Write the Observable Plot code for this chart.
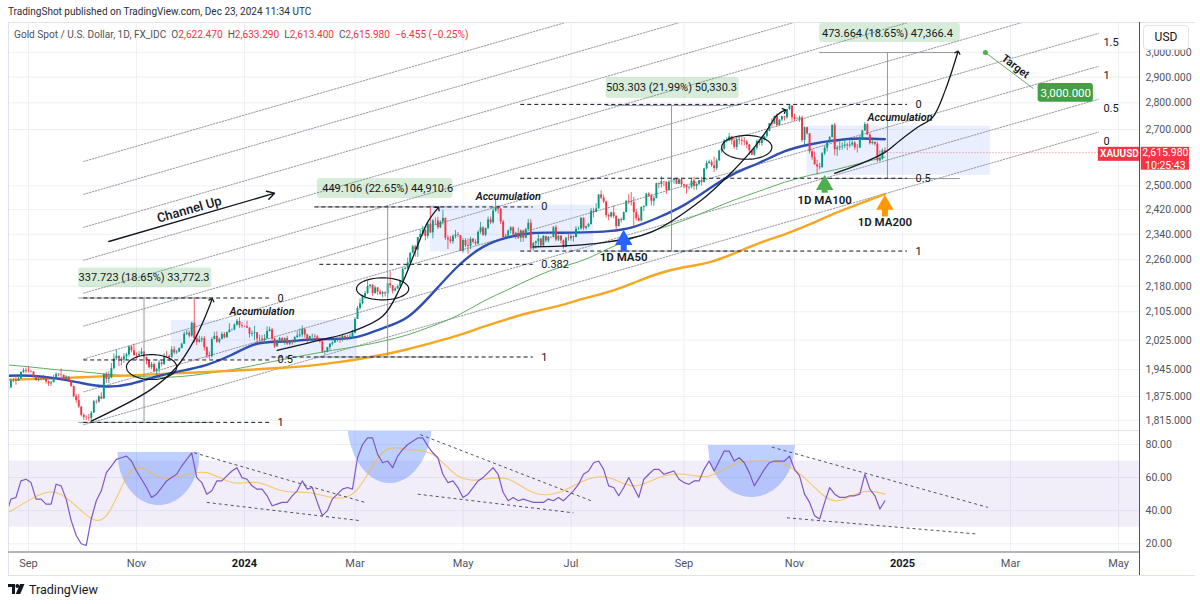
<!DOCTYPE html>
<html><head><meta charset="utf-8">
<script src="https://cdn.jsdelivr.net/npm/d3@7"></script>
<script src="https://cdn.jsdelivr.net/npm/@observablehq/plot@0.6"></script>
<style>
html,body{margin:0;padding:0;background:#fff;}
#wrap{position:relative;width:1200px;height:604px;overflow:hidden;font-family:Roboto,"Open Sans",sans-serif;color:#131722;}
.abs{position:absolute;}
#hdr{left:8px;top:6px;font-size:10px;color:#2a2e39;white-space:nowrap;}
#legend{left:14px;top:29px;font-size:10.1px;color:#50535e;white-space:nowrap;}
#legend .r{color:#f23645;}
.ln{position:absolute;background:#e0e3eb;}
#usd{left:1143px;top:25px;width:44px;height:23px;border:1px solid #e0e3eb;border-radius:4px;background:#fff;font-size:12px;line-height:23px;text-align:center;color:#131722;}
#logo{left:8px;top:582px;font-size:12.5px;color:#131722;display:flex;align-items:center;gap:4px;}
</style></head>
<body><div id="wrap">
<div id="main" class="abs" style="left:0;top:0"></div>
<div id="rsi" class="abs" style="left:0;top:430px"></div>
<div class="ln" style="left:8px;top:22px;width:1187px;height:1px"></div>
<div class="ln" style="left:8px;top:22px;width:1px;height:553px"></div>
<div class="ln" style="left:8px;top:430px;width:1132px;height:1px"></div>
<div class="ln" style="left:8px;top:551px;width:1132px;height:2px;background:#b2b5be"></div>
<div class="ln" style="left:8px;top:575px;width:1187px;height:1px"></div>
<div class="ln" style="left:1139px;top:22px;width:1px;height:553px;background:#50535e"></div>
<div id="hdr" class="abs">TradingShot published on TradingView.com, Dec 23, 2024 11:34 UTC</div>
<div id="legend" class="abs">Gold Spot / U.S. Dollar, 1D, FX_IDC&nbsp; O<span class="r">2,622.470</span>&nbsp; H<span class="r">2,633.290</span>&nbsp; L<span class="r">2,613.400</span>&nbsp; C<span class="r">2,615.980</span>&nbsp; <span class="r">−6.455 (−0.25%)</span></div>
<div id="usd" class="abs">USD</div>
<div id="logo" class="abs"><svg width="17" height="11" viewBox="0 0 17 11"><path d="M0 0h7v10H4V3H0z" fill="#131722"/><circle cx="9.3" cy="2" r="1.9" fill="#131722"/><path d="M12 0h4.5l-4.3 10H7.8z" fill="#131722"/></svg><span>TradingView</span></div>
</div>
<script>
// ---------- DATA: XAUUSD daily sessions from Mon 2023-08-21 to Mon 2024-12-23 (5 sessions per row = one week) ----------
const firstOpen = 1889.6;
const closes = [
1894.6,1897.6,1915.4,1917.1,1914.8, 1920.3,1937.5,1942.1,1940.2,1939.8, 1938.9,1926.5,1916.3,1919.2,1919.0,
1922.5,1913.0,1907.5,1910.6,1923.6, 1932.5,1931.3,1930.3,1919.9,1925.5, 1915.4,1900.9,1874.8,1865.0,1848.6,
1827.2,1822.3,1821.3,1820.0,1833.0, 1861.6,1860.8,1874.0,1868.6,1932.8, 1919.6,1923.0,1947.6,1973.9,1981.2,
1973.2,1970.8,1979.3,1984.6,2006.4, 1995.9,1983.3,1982.6,1985.6,1992.4, 1977.3,1969.2,1950.4,1958.3,1940.3,
1946.0,1963.1,1958.8,1981.0,1980.7, 1977.2,1998.3,1990.1,1992.5,2002.1, 2014.0,2041.4,2044.5,2036.3,2072.2,
2029.5,2019.1,2025.5,2028.6,2004.5, 1981.9,1980.2,2026.9,2035.4,2019.6, 2027.0,2040.6,2031.5,2045.8,2053.1,
2053.5,2067.4,2077.1,2065.0,2062.9, 2062.5,2058.9,2041.6,2043.2,2045.3, 2027.9,2028.0,2024.4,2028.6,2049.1,
2053.5,2028.1,2006.6,2023.3,2029.2, 2021.0,2029.4,2013.8,2020.6,2018.0, 2031.9,2036.5,2039.4,2054.4,2039.4,
2024.7,2035.0,2035.3,2033.9,2024.3, 2020.0,1992.1,1992.4,2004.6,2013.7, 2017.3,2024.8,2025.6,2024.4,2035.5,
2031.1,2030.3,2034.0,2044.5,2082.9, 2114.5,2128.2,2148.3,2158.5,2178.9, 2182.4,2158.1,2174.9,2162.0,2155.9,
2160.3,2157.2,2186.5,2181.0,2165.2, 2171.7,2178.8,2194.5,2229.9,2233.0, 2250.5,2280.5,2300.1,2290.4,2329.8,
2339.1,2352.3,2333.3,2372.3,2344.4, 2383.2,2383.1,2361.0,2379.4,2391.6, 2327.4,2322.2,2316.5,2332.6,2337.4,
2335.8,2286.4,2320.3,2303.5,2301.5, 2323.8,2314.6,2309.0,2346.3,2360.5, 2336.5,2358.4,2386.2,2377.0,2415.2,
2425.4,2420.8,2379.3,2329.2,2334.0, 2350.8,2360.7,2337.9,2343.1,2327.3, 2350.5,2327.6,2355.1,2375.6,2293.8,
2310.6,2316.0,2324.6,2303.0,2332.7, 2318.7,2329.6,2329.3,2360.7,2321.6, 2334.3,2319.3,2297.8,2327.6,2326.0,
2332.3,2329.9,2356.0,2356.6,2391.9, 2359.0,2364.6,2371.2,2414.9,2411.3, 2422.5,2469.2,2458.3,2445.7,2400.8,
2396.0,2409.4,2397.1,2364.5,2387.2, 2384.1,2410.1,2447.6,2446.1,2443.3, 2410.1,2390.3,2382.5,2427.3,2431.3,
2472.0,2465.3,2447.4,2456.7,2507.6, 2504.5,2513.7,2512.6,2484.0,2512.6, 2517.9,2524.7,2505.4,2521.1,2503.4,
2500.1,2493.3,2495.5,2516.3,2497.4, 2505.4,2516.9,2511.9,2558.6,2577.6, 2582.0,2569.4,2559.3,2586.8,2621.8,
2628.4,2657.2,2657.8,2672.7,2658.1, 2634.6,2662.7,2659.6,2656.7,2653.6, 2643.6,2622.7,2606.9,2630.5,2656.6,
2648.8,2662.3,2674.4,2692.7,2721.2, 2719.5,2748.6,2714.6,2735.2,2747.2, 2743.2,2774.6,2788.0,2743.9,2736.0,
2736.0,2743.0,2659.4,2706.5,2684.1, 2618.9,2598.4,2572.8,2565.3,2562.3, 2611.9,2631.5,2651.0,2670.0,2715.6,
2626.5,2632.9,2636.4,2639.0,2643.2, 2639.6,2643.0,2650.2,2632.8,2632.3, 2660.8,2694.8,2718.1,2680.1,2648.3,
2652.6,2646.0,2586.5,2594.0,2622.4, 2615.98];
const highs = [
1897,1903,1920,1922,1925, 1925,1939,1948,1949,1953, 1943,1940,1929,1922,1925,
1930,1925,1915,1914,1930, 1937,1935,1947,1930,1929, 1925,1917,1902,1880,1880,
1848,1831,1826,1830,1837, 1865,1866,1877,1885,1932, 1938,1939,1962,1987,1997,
1981,1978,1988,1989,2009, 2009,2014,1990,1994,2003, 1994,1979,1970,1964,1963,
1949,1970,1969,1988,1994, 1985,2007,2007,1997,2004, 2017,2048,2052,2051,2075,
2146,2040,2036,2034,2035, 2006,1993,2032,2047,2048, 2030,2047,2046,2048,2071,
2056,2070,2083,2088,2074, 2064,2078,2058,2051,2064, 2046,2039,2038,2040,2062,
2061,2058,2031,2025,2033, 2032,2032,2036,2023,2026, 2035,2049,2056,2065,2058,
2041,2036,2042,2041,2038, 2031,2024,1996,2005,2016, 2021,2031,2032,2035,2041,
2037,2038,2042,2052,2088, 2120,2142,2152,2164,2195, 2185,2185,2180,2175,2168,
2164,2163,2189,2223,2181, 2177,2184,2196,2236,2236, 2265,2282,2305,2305,2330,
2354,2365,2355,2378,2431, 2387,2392,2395,2383,2418, 2391,2335,2333,2338,2352,
2346,2335,2326,2326,2325, 2331,2327,2323,2351,2378, 2364,2360,2396,2396,2422,
2450,2432,2424,2385,2339, 2353,2364,2364,2347,2360, 2354,2353,2359,2388,2387,
2314,2318,2342,2327,2336, 2334,2333,2332,2365,2368, 2335,2335,2322,2329,2339,
2339,2335,2365,2363,2393, 2392,2366,2375,2424,2425, 2440,2469,2483,2469,2448,
2406,2412,2432,2400,2390, 2393,2412,2451,2470,2477, 2461,2421,2402,2430,2432,
2474,2477,2471,2465,2509, 2510,2531,2515,2512,2517, 2527,2525,2526,2524,2526,
2504,2503,2498,2523,2529, 2507,2518,2529,2560,2586, 2589,2589,2600,2593,2625,
2634,2664,2670,2685,2675, 2666,2673,2672,2670,2670, 2660,2645,2624,2632,2661,
2664,2673,2676,2696,2721, 2740,2749,2758,2736,2749, 2749,2774,2790,2790,2757,
2745,2750,2750,2710,2709, 2685,2627,2618,2588,2578, 2616,2639,2652,2674,2716,
2722,2640,2655,2651,2665, 2650,2658,2658,2656,2645, 2676,2695,2726,2722,2684,
2664,2655,2654,2622,2629, 2633.29];
const lows = [
1884,1887,1896,1911,1904, 1914,1919,1935,1934,1936, 1936,1923,1915,1913,1915,
1917,1907,1901,1901,1910, 1922,1926,1915,1914,1917, 1913,1899,1872,1858,1845,
1824,1815,1815,1813,1810, 1832,1855,1858,1867,1868, 1909,1908,1922,1945,1969,
1953,1955,1962,1970,1979, 1990,1980,1970,1978,1984, 1966,1958,1947,1945,1937,
1931,1936,1953,1956,1977, 1966,1976,1985,1986,1991, 2001,2013,2038,2031,2033,
2017,2010,2017,2018,1995, 1975,1973,1976,2026,2016, 2015,2026,2028,2030,2045,
2050,2051,2064,2058,2058, 2060,2057,2031,2034,2024, 2017,2021,2016,2013,2028,
2048,2023,2002,2009,2016, 2017,2011,2010,2009,2011, 2016,2030,2031,2032,2031,
2015,2022,2030,2028,2021, 2017,1989,1984,1990,1996, 2009,2016,2019,2016,2020,
2024,2025,2025,2030,2043, 2083,2110,2125,2141,2155, 2171,2150,2156,2153,2153,
2146,2148,2146,2172,2157, 2163,2170,2174,2193,2229, 2229,2245,2279,2268,2267,
2322,2332,2319,2325,2342, 2325,2368,2355,2358,2370, 2320,2292,2310,2308,2325,
2329,2285,2280,2298,2277, 2291,2310,2303,2305,2340, 2333,2332,2355,2371,2373,
2411,2405,2371,2326,2325, 2331,2341,2334,2323,2323, 2314,2315,2325,2351,2287,
2287,2293,2299,2299,2302, 2313,2312,2326,2329,2316, 2317,2310,2293,2298,2318,
2318,2315,2329,2352,2353, 2352,2353,2361,2370,2393, 2410,2421,2453,2440,2393,
2384,2392,2390,2353,2365, 2376,2384,2410,2437,2432, 2364,2383,2380,2380,2414,
2429,2461,2432,2431,2456, 2490,2492,2497,2471,2484, 2502,2506,2504,2504,2497,
2490,2472,2485,2490,2485, 2485,2500,2499,2509,2555, 2575,2563,2546,2553,2585,
2614,2625,2650,2655,2643, 2628,2624,2644,2641,2640, 2630,2606,2605,2603,2624,
2640,2638,2658,2667,2691, 2708,2718,2708,2714,2729, 2731,2739,2771,2730,2730,
2734,2726,2652,2643,2679, 2611,2589,2572,2537,2555, 2562,2605,2619,2649,2670,
2605,2602,2622,2624,2630, 2623,2632,2638,2624,2614, 2631,2659,2694,2677,2643,
2643,2639,2582,2583,2589, 2613.4];
// Moving averages, one value every 10 sessions (session 0,10,...,350)
const ma50  = [1929,1929,1922,1910,1901,1908,1927,1942,1958,1985,2015,2021,2026,2028,2034,2058,2090,2160,2240,2300,2330,2344,2345,2346,2350,2364,2395,2435,2490,2542,2580,2620,2645,2660,2667,2664];
const ma100 = [1958,1952,1945,1940,1933,1928,1925,1927,1935,1945,1958,1972,1985,1997,2008,2022,2040,2065,2095,2135,2170,2205,2235,2259,2295,2328,2357,2385,2418,2452,2482,2512,2536,2555,2578,2600];
const ma200 = [1918,1920,1922,1925,1928,1930,1933,1936,1939,1942,1946,1950,1955,1963,1973,1985,2000,2018,2038,2062,2085,2105,2122,2143,2163,2190,2218,2237,2252,2280,2312,2340,2372,2408,2440,2472];
// RSI(14), one value every 2 sessions (session 0,2,...,350)
const rsi = [37,47,48,58,59,57,47,47,44,44,56,55,47,34,25,20,19,35,46,52,63,67,71,72,73,70,64,59,54,48,50,54,58,60,62,67,71,75,60,57,50,52,58,58,61,64,66,60,59,55,53,53,49,43,44,45,45,49,52,58,53,54,45,37,40,47,50,53,54,53,72,80,84,84,74,69,70,66,73,77,80,82,84,84,79,75,72,62,57,58,54,48,50,54,58,60,63,66,62,51,46,48,46,47,46,45,45,45,47,46,48,46,49,52,56,62,64,69,70,65,55,54,49,54,60,54,48,59,62,65,65,62,63,64,59,57,56,58,58,65,70,64,70,76,76,70,72,69,63,55,60,65,69,70,70,70,73,65,61,50,45,37,35,45,54,50,48,48,49,49,50,62,53,49,41,46];
// RSI-based moving average, one value every 10 sessions
const rsiMA = [38,47,51,40,37,64,61,61,63,57,57,52,51,48,53,75,77,74,61,59,59,51,51,58,60,55,60,62,61,68,70,68,57,46,51,50];
// Axis ticks
const priceTicks = [1815,1875,1945,2025,2105,2180,2260,2340,2420,2500,2700,2800,2900,3000];
const rsiTicks = [20,40,60,80];
const monthTicks = ["2023-09-01","2023-11-01","2024-03-01","2024-05-01","2024-07-01","2024-09-01","2024-11-01","2025-03-01","2025-05-01"];
const monthTickLabels = ["Sep","Nov","Mar","May","Jul","Sep","Nov","Mar","May"];
const yearTicks = ["2024-01-01","2025-01-01"];
const yearTickLabels = ["2024","2025"];
const lastPrice = 2615.98;

// ---------- ANNOTATIONS (date, price) ----------
const channelBase = [["2023-10-03",1804],["2025-04-21",2690]];
const channelLevels = [0,0.5,1,1.5,2,2.5,3,3.5,4];
const channelLabelLevels = [0,0.5,1,1.5];
const fibLines = [
  ["0","2023-10-03","2024-01-15",2145],["0.5","2023-10-03","2024-01-15",1971],["1","2023-10-03","2024-01-15",1810],
  ["0","2024-02-08","2024-06-10",2429],["0.382","2024-02-12","2024-06-10",2246],["1","2024-01-16","2024-06-10",1979],
  ["0","2024-06-03","2025-01-03",2794],["0.5","2024-06-03","2025-01-03",2526],["1","2024-06-03","2025-01-03",2287]];
const measures = [
  {at:"2023-11-06",from:"2023-09-29",to:"2023-12-13",top:2145,bottom:1810,lo:2175,hi:2235,text:"337.723 (18.65%) 33,772.3"},
  {at:"2024-03-20",from:"2024-02-09",to:"2024-04-25",top:2429,bottom:1979,lo:2457,hi:2525,text:"449.106 (22.65%) 44,910.6"},
  {at:"2024-08-26",from:"2024-07-19",to:"2024-10-02",top:2790,bottom:2287,lo:2817,hi:2899,text:"503.303 (21.99%) 50,330.3"},
  {at:"2024-12-24",from:"2024-11-15",to:"2025-02-03",top:2999,bottom:2525,lo:3040,hi:3120,text:"473.664 (18.65%) 47,366.4"}];
const accBoxes = [["2023-11-21","2024-03-04",1971,2080],["2024-04-12","2024-07-12",2284,2435],["2024-11-08","2025-02-19",2536,2712]];
const accLabels = [["2024-01-10",2105],["2024-05-27",2463],["2024-12-31",2745]];
const ellipses = [{at:"2023-11-09",price:1952,hb:10,hl:0.017},{at:"2024-03-18",price:2172,hb:10.4,hl:0.015},{at:"2024-10-07",price:2635,hb:10,hl:0.0163}];
const arrows = [
  [["2023-10-06",1813],["2023-11-09",1894],["2023-11-23",1952],["2023-12-04",2025],["2023-12-11",2102],["2023-12-13",2140]],
  [["2024-01-18",1997],["2024-02-12",2025],["2024-02-28",2047],["2024-03-18",2092],["2024-03-27",2175],["2024-04-05",2306],["2024-04-11",2380],["2024-04-17",2425]],
  [["2024-06-10",2300],["2024-07-17",2313],["2024-08-14",2347],["2024-09-11",2452],["2024-09-27",2547],["2024-10-09",2624],["2024-10-17",2697],["2024-10-23",2753],["2024-10-28",2771]],
  [["2024-11-25",2543],["2024-12-09",2575],["2024-12-23",2617],["2024-12-31",2660],["2025-01-09",2708],["2025-01-17",2745],["2025-01-24",2848],["2025-01-31",3000]]];
const channelArrow = [["2023-10-17",2317],["2024-01-17",2475]];
const channelText = ["2023-11-30",2420,"Channel Up"];
const blockArrows = [
  {at:"2024-07-30",head:2322,t1:2313,t2:2284,label:"1D MA50",labelAt:2268,color:"#2962ff"},
  {at:"2024-11-19",head:2503,t1:2499,t2:2475,label:"1D MA100",labelAt:2452,color:"#4caf50"},
  {at:"2024-12-23",head:2436,t1:2428,t2:2396,label:"1D MA200",labelAt:2380,color:"#ff9800"}];
const target = {dot:["2025-02-17",2999],end:["2025-03-14",2856],text:["2025-03-05",2943],box:["2025-03-18","2025-04-17",2802,2875],label:"3,000.000"};
const bowls = [{at:"2023-11-14",hb:16.4,top:75.2,bottom:43.1},{at:"2024-03-21",hb:17,top:95,bottom:56.4},{at:"2024-10-09",hb:17.3,top:79.4,bottom:48}];
const rsiLines = [
  ["2023-12-04",75,"2024-03-07",45],["2023-12-11",45,"2024-03-05",34],
  ["2024-04-08",86,"2024-07-11",46],["2024-04-05",50,"2024-07-02",38.7],
  ["2024-10-21",78.4,"2025-02-18",42],["2024-10-29",35.7,"2025-02-11",26]];

// ---------- helpers: trading-session index (weekdays since 2023-08-21) ----------
const START = Date.UTC(2023,7,21), DAY = 864e5;
function barOf(s){const d=Math.round((Date.parse(s)-START)/DAY);const w=Math.floor(d/7),r=d-7*w;return 5*w+Math.min(r,5);}
const X0 = 1.04, X1 = 451.76;
const UP="#089981", DN="#f23645", INK="#131722";

const candles = closes.map((c,i)=>{const o=i?closes[i-1]:firstOpen;return {bar:i,o,c,h:Math.max(highs[i],o,c),l:Math.min(lows[i],o,c),col:c>=o?UP:DN};});
const maPts = (arr)=>arr.map((v,k)=>({bar:10*k,v}));
const gridBars = [...monthTicks,...yearTicks].map(barOf);
const labelMap = new Map();
monthTicks.forEach((d,i)=>labelMap.set(barOf(d),monthTickLabels[i]));
yearTicks.forEach((d,i)=>labelMap.set(barOf(d),yearTickLabels[i]));

const chanPts = channelLevels.flatMap(k=>channelBase.map(([d,p],j)=>({k,j,bar:barOf(d),price:p*Math.exp(0.0899*k)})));
const chanLabels = chanPts.filter(p=>p.j===1 && channelLabelLevels.includes(p.k));
const fibData = fibLines.map(([t,a,b,p])=>({t,x1:barOf(a),x2:barOf(b),p}));
const measData = measures.map(m=>({...m,bx:barOf(m.at),bf:barOf(m.from),bt:barOf(m.to),mid:Math.sqrt(m.lo*m.hi)}));
const ellPts = ellipses.flatMap((e,j)=>d3.range(0,73).map(t=>{const a=t/72*2*Math.PI;return {j,bar:barOf(e.at)+e.hb*Math.cos(a),price:e.price*Math.exp(e.hl*Math.sin(a))};}));
const arrowPts = arrows.flatMap((a,j)=>a.map(([d,p])=>({j,bar:barOf(d),price:p})));

const style = {fontFamily:"Roboto, sans-serif",fontSize:"10.5px",background:"transparent",overflow:"visible"};

const main = Plot.plot({
  width:1200,height:430,marginTop:22,marginBottom:0,marginLeft:8,marginRight:60,
  x:{type:"linear",domain:[X0,X1],axis:null},
  y:{type:"log",domain:[1790,3124.6],axis:null},
  style,
  marks:[
    Plot.gridY(priceTicks,{stroke:"#eef0f5",strokeOpacity:1}),
    Plot.gridX(gridBars,{stroke:"#eef0f5",strokeOpacity:1}),
    Plot.rect(accBoxes,{x1:d=>barOf(d[0]),x2:d=>barOf(d[1]),y1:d=>d[2],y2:d=>d[3],fill:"#2962ff",fillOpacity:0.1}),
    Plot.line(chanPts,{x:"bar",y:"price",z:"k",stroke:"#8a8d96",strokeWidth:0.9,strokeDasharray:"1.5,1.5",clip:true}),
    Plot.text(chanLabels,{x:"bar",y:"price",text:d=>String(d.k),dx:5,dy:9,textAnchor:"start",fill:INK,fontSize:11}),
    Plot.line(maPts(ma100),{x:"bar",y:"v",curve:"natural",stroke:"#5fae62",strokeWidth:1,clip:true}),
    Plot.line(maPts(ma200),{x:"bar",y:"v",curve:"natural",stroke:"#f5a623",strokeWidth:2.4,clip:true}),
    Plot.line(maPts(ma50),{x:"bar",y:"v",curve:"natural",stroke:"#2f4fb2",strokeWidth:2.4,clip:true}),
    Plot.ruleX(candles,{x:"bar",y1:"l",y2:"h",stroke:"col",strokeWidth:0.8,clip:true}),
    Plot.ruleX(candles,{x:"bar",y1:"o",y2:"c",stroke:"col",strokeWidth:1.9,clip:true}),
    // measurement tools
    Plot.ruleY(measData,{y:"top",x1:"bf",x2:"bt",stroke:"#9598a1",strokeWidth:1}),
    Plot.ruleY(measData,{y:"bottom",x1:"bf",x2:"bt",stroke:"#9598a1",strokeWidth:1}),
    Plot.ruleX(measData,{x:"bx",y1:"bottom",y2:"top",stroke:"#9598a1",strokeWidth:1}),
    Plot.rect(measData,{x1:"bf",x2:"bt",y1:"lo",y2:"hi",fill:"#4caf50",fillOpacity:0.22,rx:3}),
    Plot.text(measData,{x:"bx",y:"mid",text:"text",fill:INK,fontSize:11}),
    // fib retracements
    Plot.ruleY(fibData,{y:"p",x1:"x1",x2:"x2",stroke:"#131722",strokeWidth:1,strokeDasharray:"4,3"}),
    Plot.text(fibData,{x:"x2",y:"p",text:"t",dx:8,textAnchor:"start",fill:INK,fontSize:11}),
    // drawings
    Plot.line(ellPts,{x:"bar",y:"price",z:"j",stroke:INK,strokeWidth:1.2}),
    Plot.line(arrowPts,{x:"bar",y:"price",z:"j",curve:"catmull-rom",stroke:INK,strokeWidth:1.3,markerEnd:"arrow"}),
    Plot.arrow([channelArrow],{x1:d=>barOf(d[0][0]),y1:d=>d[0][1],x2:d=>barOf(d[1][0]),y2:d=>d[1][1],stroke:INK,strokeWidth:1.4,headLength:9}),
    Plot.text([channelText],{x:d=>barOf(d[0]),y:d=>d[1],text:d=>d[2],rotate:-16,fill:INK,fontSize:13,fontWeight:500}),
    Plot.text(accLabels,{x:d=>barOf(d[0]),y:d=>d[1],text:()=>"Accumulation",fill:INK,fontSize:10.8,fontStyle:"italic",fontWeight:600}),
    // block arrows
    Plot.ruleX(blockArrows,{x:d=>barOf(d.at),y1:"t1",y2:"t2",stroke:"color",strokeWidth:6}),
    Plot.dot(blockArrows,{x:d=>barOf(d.at),y:"head",symbol:"triangle",r:5.5,fill:"color",stroke:"color",strokeWidth:1.5}),
    Plot.text(blockArrows,{x:d=>barOf(d.at),y:"labelAt",text:"label",fill:INK,fontSize:11.5,fontWeight:600}),
    // target
    Plot.line([target.dot,target.end],{x:d=>barOf(d[0]),y:d=>d[1],stroke:"#6f9f72",strokeWidth:1}),
    Plot.dot([target.dot],{x:d=>barOf(d[0]),y:d=>d[1],r:2.5,fill:"#4caf50"}),
    Plot.text([target.text],{x:d=>barOf(d[0]),y:d=>d[1],text:()=>"Target",rotate:37,fill:INK,fontSize:11,fontWeight:600}),
    Plot.rect([target.box],{x1:d=>barOf(d[0]),x2:d=>barOf(d[1]),y1:d=>d[2],y2:d=>d[3],fill:"#43a047",rx:3}),
    Plot.text([target.box],{x:d=>(barOf(d[0])+barOf(d[1]))/2,y:d=>Math.sqrt(d[2]*d[3]),text:()=>target.label,fill:"#fff",fontSize:11.5}),
    // last price
    Plot.ruleY([lastPrice],{x1:closes.length-1,x2:X1,stroke:DN,strokeOpacity:0.6,strokeDasharray:"1,2"}),
    Plot.rect([0],{x1:barOf(channelBase[1][0]),x2:X1-0.3,y1:2585,y2:2635,fill:DN}),
    Plot.text([0],{x:(barOf(channelBase[1][0])+X1)/2,y:2610,text:()=>"XAUUSD",fill:"#fff",fontSize:10,fontWeight:600}),
    Plot.axisY(priceTicks,{anchor:"right",tickSize:0,tickPadding:5,tickFormat:d3.format(",.3f"),fill:"#50535e",fontSize:10.5}),
    Plot.rect([0],{x1:X1+0.3,x2:X1+19.5,y1:2554,y2:2635,fill:DN}),
    Plot.text([0],{x:X1+9.9,y:lastPrice,text:()=>d3.format(",.3f")(lastPrice),fill:"#fff",fontSize:10.5}),
    Plot.text([0],{x:X1+9.9,y:2571,text:()=>"10:25:43",fill:"#fff",fontSize:10.5})
  ]
});
document.getElementById("main").appendChild(main);

const bowlPts = bowls.flatMap((b,j)=>d3.range(0,61).map(t=>{const u=-1+2*t/60;return {j,bar:barOf(b.at)+b.hb*u,top:b.top,y:b.top-(b.top-b.bottom)*Math.sqrt(Math.max(0,1-u*u))};}));
const rsiPts = rsi.map((v,k)=>({bar:2*k,v}));
const rsiLineData = rsiLines.map(([a,v1,b,v2])=>({x1:barOf(a),y1:v1,x2:barOf(b),y2:v2}));

const rsiPlot = Plot.plot({
  width:1200,height:146,marginTop:0,marginBottom:24,marginLeft:8,marginRight:60,
  x:{type:"linear",domain:[X0,X1],axis:null},
  y:{domain:[14.74,88.46],axis:null},
  style,
  marks:[
    Plot.gridY(rsiTicks,{stroke:"#eef0f5",strokeOpacity:1}),
    Plot.gridX(gridBars,{stroke:"#eef0f5",strokeOpacity:1}),
    Plot.rect([{a:X0,b:X1,lo:30,hi:70}],{x1:"a",x2:"b",y1:"lo",y2:"hi",fill:"#7e57c2",fillOpacity:0.1}),
    Plot.areaY(bowlPts,{x:"bar",y1:"top",y2:"y",z:"j",fill:"#2962ff",fillOpacity:0.3,clip:true}),
    Plot.line(rsiMA.map((v,k)=>({bar:10*k,v})),{x:"bar",y:"v",curve:"natural",stroke:"#f5b940",strokeOpacity:0.75,strokeWidth:1.1,clip:true}),
    Plot.line(rsiPts,{x:"bar",y:"v",stroke:"#7e57c2",strokeWidth:1.2,clip:true}),
    Plot.link(rsiLineData,{x1:"x1",y1:"y1",x2:"x2",y2:"y2",stroke:"#50535e",strokeWidth:1,strokeDasharray:"3,3"}),
    Plot.axisY(rsiTicks,{anchor:"right",tickSize:0,tickPadding:5,tickFormat:d3.format(".2f"),fill:"#50535e",fontSize:10.5}),
    Plot.axisX(monthTicks.map(barOf),{anchor:"bottom",tickSize:0,tickPadding:7,tickFormat:d=>labelMap.get(d),fill:"#50535e",fontSize:11}),
    Plot.axisX(yearTicks.map(barOf),{anchor:"bottom",tickSize:0,tickPadding:7,tickFormat:d=>labelMap.get(d),fill:INK,fontSize:11,fontWeight:"bold"})
  ]
});
document.getElementById("rsi").appendChild(rsiPlot);
</script>
</body></html>
